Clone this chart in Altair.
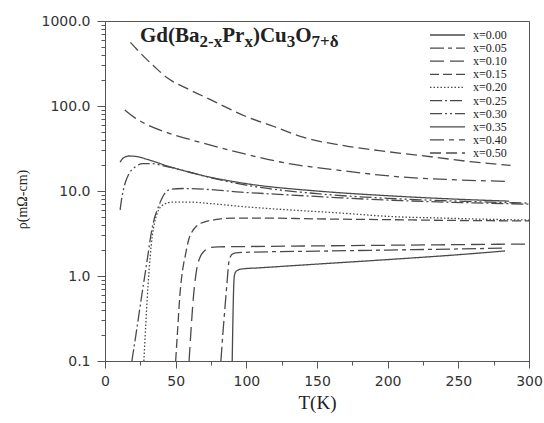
import altair as alt
import pandas as pd

# ---- data ----
SERIES = ["x=0.00", "x=0.05", "x=0.10", "x=0.15", "x=0.20",
          "x=0.25", "x=0.30", "x=0.35", "x=0.40", "x=0.50"]

T_000 = [90, 90.5, 91, 91.5, 92.5, 94.5, 97, 110, 150, 200, 250, 283]
R_000 = [0.1, 0.3, 0.7, 1.0, 1.12, 1.18, 1.21, 1.25, 1.38, 1.56, 1.78, 1.97]

T_005 = [82, 83.5, 85, 86.5, 87.5, 88.5, 90, 92.5, 100, 150, 200, 250, 283]
R_005 = [0.1, 0.22, 0.45, 0.9, 1.4, 1.65, 1.8, 1.87, 1.9, 1.96, 2.02, 2.08, 2.13]

T_010 = [59.5, 61, 62.5, 64, 65.5, 67.5, 70, 74, 80, 100, 150, 200, 250, 300]
R_010 = [0.1, 0.25, 0.55, 0.95, 1.35, 1.7, 1.95, 2.15, 2.2, 2.22, 2.26, 2.3, 2.34, 2.38]

T_015 = [50, 51.5, 53, 55, 57, 59, 61.5, 65, 70, 78, 90, 110, 150, 200, 250, 300]
R_015 = [0.1, 0.25, 0.6, 1.2, 1.8, 2.6, 3.3, 3.9, 4.3, 4.6, 4.8, 4.8, 4.7, 4.6, 4.5, 4.45]

T_020 = [27.5, 29, 30.5, 32, 33.5, 35, 38, 42, 48, 60, 75, 100, 130, 167, 203, 240, 270, 300]
R_020 = [0.1, 0.3, 0.8, 1.7, 3.0, 4.2, 6.0, 7.0, 7.4, 7.4, 7.1, 6.5, 6.0, 5.5, 5.0, 4.8, 4.65, 4.55]

T_025 = [19, 22, 26, 30, 33, 35, 37, 40, 43, 47, 55, 70, 96, 130, 167, 210, 240, 270, 300]
R_025 = [0.1, 0.21, 0.59, 1.6, 3.4, 4.8, 6.0, 8.0, 9.7, 10.5, 10.7, 10.5, 9.7, 9.0, 8.3, 7.7, 7.4, 7.2, 7.0]

T_030 = [10.7, 12, 14, 17, 21, 27, 33, 40, 55, 70, 100, 150, 200, 250, 300]
R_030 = [6.0, 8.5, 12, 16, 19, 21, 21, 20, 17.5, 15, 11.7, 9.3, 8.2, 7.6, 7.2]

T_035 = [10.7, 13, 17, 22, 30, 45, 67, 100, 150, 200, 250, 286]
R_035 = [21.9, 24.5, 25.8, 25.5, 23.5, 19.5, 15.5, 12.2, 10.0, 8.8, 8.0, 7.6]

T_040 = [14, 20, 30, 45, 67, 100, 130, 160, 210, 250, 283]
R_040 = [90, 75, 60, 48, 37.5, 27, 21, 18, 14.6, 13.5, 13]

T_050 = [18, 25, 35, 44, 60, 75, 100, 120, 140, 170, 200, 233, 260, 287]
R_050 = [560, 420, 290, 215, 155, 118, 75, 57, 43, 34, 29, 25, 22, 20]

T_ALL = [T_000, T_005, T_010, T_015, T_020, T_025, T_030, T_035, T_040, T_050]
R_ALL = [R_000, R_005, R_010, R_015, R_020, R_025, R_030, R_035, R_040, R_050]

X_TICKS = [0, 25, 50, 75, 100, 125, 150, 175, 200, 225, 250, 275, 300]
DECADES = [0.1, 1, 10, 100, 1000]
MULTS = [1, 2, 3, 4, 5, 6, 7, 8, 9]
Y_TICKS = [round(d * m, 6) for d in DECADES[:-1] for m in MULTS] + [1000]

DASHES = [[1, 0], [14, 4, 4, 4], [14, 6], [9, 4], [1.5, 2],
          [12, 3, 2, 3], [12, 3, 2, 3, 2, 3], [1, 0], [14, 5, 5, 5], [11, 5]]

TITLE_PARTS = ["Gd(Ba", "2-x", "Pr", "x", ")Cu", "3", "O", "7+\u03b4"]
TITLE_SUB = [False, True, False, True, False, True, False, True]

rows = []
for s, ts, rs in zip(SERIES, T_ALL, R_ALL):
    for t, r in zip(ts, rs):
        rows.append({"series": s, "T": t, "rho": r})
df = pd.DataFrame(rows)
legend_df = pd.DataFrame({"series": SERIES})

LINE = "#4a4a4a"
dash_scale = alt.Scale(domain=SERIES, range=DASHES)

dec_test = "indexof([0.1,1,10,100,1000], datum.value) >= 0"

lines = alt.Chart(df).mark_line(color=LINE, strokeWidth=1.3, interpolate="monotone", clip=True).encode(
    x=alt.X("T:Q", scale=alt.Scale(domain=[0, 300], nice=False),
            axis=alt.Axis(values=X_TICKS, labelExpr="datum.value % 50 == 0 ? datum.label : ''",
                          tickSize={"condition": {"test": "datum.value % 50 == 0", "value": 7}, "value": 4},
                          labelFlush=False, grid=False, title="T(K)",
                          titleFont="Liberation Serif", titleFontSize=19, titleFontWeight="normal",
                          titleY=32, titleColor="#222",
                          labelFont="DejaVu Sans", labelFontSize=14, labelColor="#333",
                          labelPadding=6, domainColor="#555", tickColor="#555")),
    y=alt.Y("rho:Q", scale=alt.Scale(type="log", domain=[0.1, 1000], nice=False),
            axis=alt.Axis(values=Y_TICKS,
                          labelExpr=dec_test + " ? format(datum.value, '.1f') : ''",
                          tickSize={"condition": {"test": dec_test, "value": 8}, "value": 4},
                          labelOverlap=False, labelFlush=False, grid=False, title="\u03c1(m\u03a9-cm)",
                          titleFont="Liberation Serif", titleFontSize=14, titleFontWeight="normal",
                          titleX=-76, titleY=178, titleColor="#222",
                          labelFont="DejaVu Sans", labelFontSize=14, labelColor="#333",
                          labelPadding=7, domainColor="#555", tickColor="#555")),
    strokeDash=alt.StrokeDash("series:N", scale=dash_scale, legend=None),
    detail="series:N",
)

leg_y = alt.Y("series:N", scale=alt.Scale(type="point", range=[14, 132], padding=0), axis=None)

leg_lines = alt.Chart(legend_df).mark_rule(color=LINE, strokeWidth=1.3).encode(
    x=alt.value(325), x2=alt.value(360), y=leg_y,
    strokeDash=alt.StrokeDash("series:N", scale=dash_scale, legend=None),
)
leg_text = alt.Chart(legend_df).mark_text(align="left", baseline="middle", font="Liberation Serif",
                                          fontSize=12, color="#222").encode(
    x=alt.value(368), y=leg_y, text="series:N",
)

# title pieces (layout positions in plot pixels)
TITLE_X = [35, 94.5, 117.2, 139.4, 147.9, 181.7, 190.2, 206.5]
title_layers = []
for part, sub, px in zip(TITLE_PARTS, TITLE_SUB, TITLE_X):
    title_layers.append(
        alt.Chart(pd.DataFrame({"t": [part]})).mark_text(
            align="left", baseline="alphabetic", font="Liberation Serif", fontWeight="bold",
            fontSize=17 if sub else 21, color="#222").encode(
            x=alt.value(px), y=alt.value(26 if sub else 21), text="t:N")
    )

chart = alt.layer(lines, leg_lines, leg_text, *title_layers).resolve_scale(y="independent").properties(
    width=424, height=340,
    autosize=alt.AutoSizeParams(type="none"),
    padding={"left": 105, "top": 21, "right": 15, "bottom": 62},
    background="white",
).configure_view(stroke="#555", strokeWidth=1)

chart.save("out.html", embed_options={"renderer": "svg", "actions": False})
